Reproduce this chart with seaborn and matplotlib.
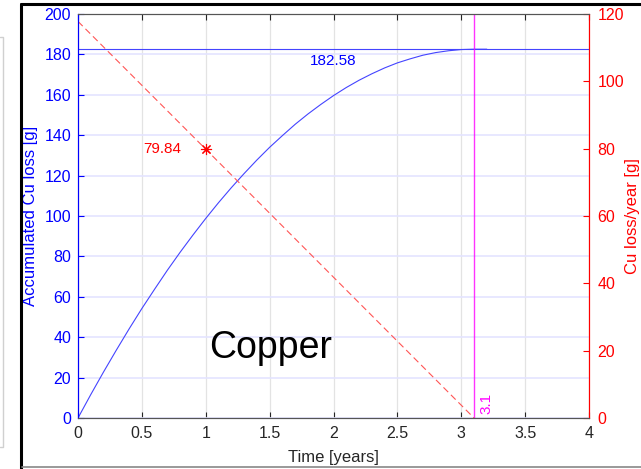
"""Copper: accumulated Cu loss and yearly Cu loss over time."""

import matplotlib
matplotlib.use("Agg")
import matplotlib.pyplot as plt
from matplotlib.lines import Line2D
import seaborn as sns

# --- data ---
acc_time = [0, 0.1, 0.2, 0.3, 0.4, 0.5, 0.6, 0.7, 0.8, 0.9, 1.0, 1.1, 1.2, 1.3, 1.4,
            1.5, 1.6, 1.7, 1.8, 1.9, 2.0, 2.1, 2.2, 2.3, 2.4, 2.5, 2.6, 2.7, 2.8, 2.9,
            3.0, 3.1, 3.2]
acc_loss = [0, 11.6, 22.8, 33.6, 44.1, 54.2, 63.8, 73.2, 82.1, 90.6, 98.8, 106.6,
            114.0, 121.0, 127.7, 134.0, 139.8, 145.4, 150.5, 155.2, 159.6, 163.6,
            167.2, 170.4, 173.3, 175.8, 177.8, 179.6, 180.9, 181.8, 182.4, 182.58,
            182.58]
rate_time = [0, 1, 3.1]
rate_loss = [117.8, 79.84, 0]

total_loss = 182.58
marker_time = 1
marker_value = 79.84
end_time = 3.1

xticks = [0, 0.5, 1, 1.5, 2, 2.5, 3, 3.5, 4]
xtick_labels = ["0", "0.5", "1", "1.5", "2", "2.5", "3", "3.5", "4"]
left_ticks = [0, 20, 40, 60, 80, 100, 120, 140, 160, 180, 200]
right_ticks = [0, 20, 40, 60, 80, 100, 120]

BLUE = "#0000ff"
RED = "#ff0000"
MAGENTA = "#ff00ff"
DARK = "#262626"

sns.set_theme(style="white")
plt.rcParams["font.family"] = ["Liberation Sans", "DejaVu Sans"]

fig = plt.figure(figsize=(6.41, 4.69), dpi=100)
ax = fig.add_axes([78 / 641, 51 / 469, 511 / 641, 404 / 469])
ax2 = ax.twinx()

# grid: vertical gray, horizontal tinted with the left axis colour
ax.set_axisbelow(True)
ax.grid(True, axis="x", color="#e3e3e3", lw=0.9)
ax.grid(True, axis="y", color="#e4e4ff", lw=1.2)

# accumulated loss (left axis)
sns.lineplot(x=acc_time, y=acc_loss, ax=ax, color="#4444ff", lw=0.8, sort=False)
ax.axhline(total_loss, color="#4444ff", lw=0.8)
ax.axvline(end_time, color=MAGENTA, lw=1.0, alpha=0.8)
ax.text(2.0, total_loss - 2.5, f"{total_loss:.2f}", color=BLUE, fontsize=11,
        ha="center", va="top")
ax.text(1.03, 29.5, "Copper", fontsize=27, color="black", ha="left", va="baseline")
ax.text(end_time + 0.04, 2.0, f"{end_time}", color=MAGENTA, fontsize=11,
        rotation=90, ha="left", va="bottom")

# yearly loss (right axis)
sns.lineplot(x=rate_time, y=rate_loss, ax=ax2, color="#ff5555", lw=0.8,
             linestyle=(0, (6, 3.5)), sort=False)
ax2.plot([marker_time], [marker_value], marker=(8, 2, 0), color=RED, ms=8, mew=0.8,
         linestyle="none")
ax2.text(marker_time - 0.19, marker_value, f"{marker_value:.2f}", color=RED,
         fontsize=11, ha="right", va="center")

ax.set_xlim(0, 4)
ax.set_ylim(0, 200)
ax2.set_ylim(0, 120)
ax.set_xticks(xticks)
ax.set_xticklabels(xtick_labels)
ax.set_yticks(left_ticks)
ax2.set_yticks(right_ticks)

ax.tick_params(axis="x", direction="in", length=4, width=0.8, colors=DARK,
               labelsize=11.5, pad=6, top=True, bottom=True)
ax.tick_params(axis="y", direction="in", length=4, width=0.8, colors=BLUE,
               labelsize=11.5, pad=5, left=True, right=False)
ax2.tick_params(axis="y", direction="in", length=4, width=0.8, colors=RED,
                labelsize=11.5, pad=6, right=True, left=False)

for a in (ax, ax2):
    a.spines["top"].set_color("#555555")
    a.spines["bottom"].set_color("#555555")
    a.spines["left"].set_color(BLUE)
    a.spines["right"].set_color(RED)
    for s in a.spines.values():
        s.set_linewidth(0.8)

ax.set_xlabel("Time [years]", fontsize=12, color=DARK)
ax.set_ylabel("Accumulated Cu loss [g]", fontsize=12, color=BLUE)
ax2.set_ylabel("Cu loss/year [g]", fontsize=12, color=RED, rotation=90)
ax.xaxis.set_label_coords(0.5, -0.08)
ax.yaxis.set_label_coords(-0.078, 0.5)
ax2.yaxis.set_label_coords(1.071, 0.5)

# screenshot frame around the figure
W, H = 641, 469
def px_line(xs, ys, color, lw):
    fig.add_artist(Line2D([x / W for x in xs], [1 - y / H for y in ys],
                          transform=fig.transFigure, color=color, lw=lw))

px_line([21, W], [4.5, 4.5], "black", 2.2)
px_line([21, 21], [4.5, H], "black", 2.2)
px_line([22, W], [467, 467], "#888888", 1.2)
px_line([0, 3, 3, 0], [37, 37, 447, 447], "#d0d0d0", 1.0)

fig.savefig("out.png", dpi=100)
